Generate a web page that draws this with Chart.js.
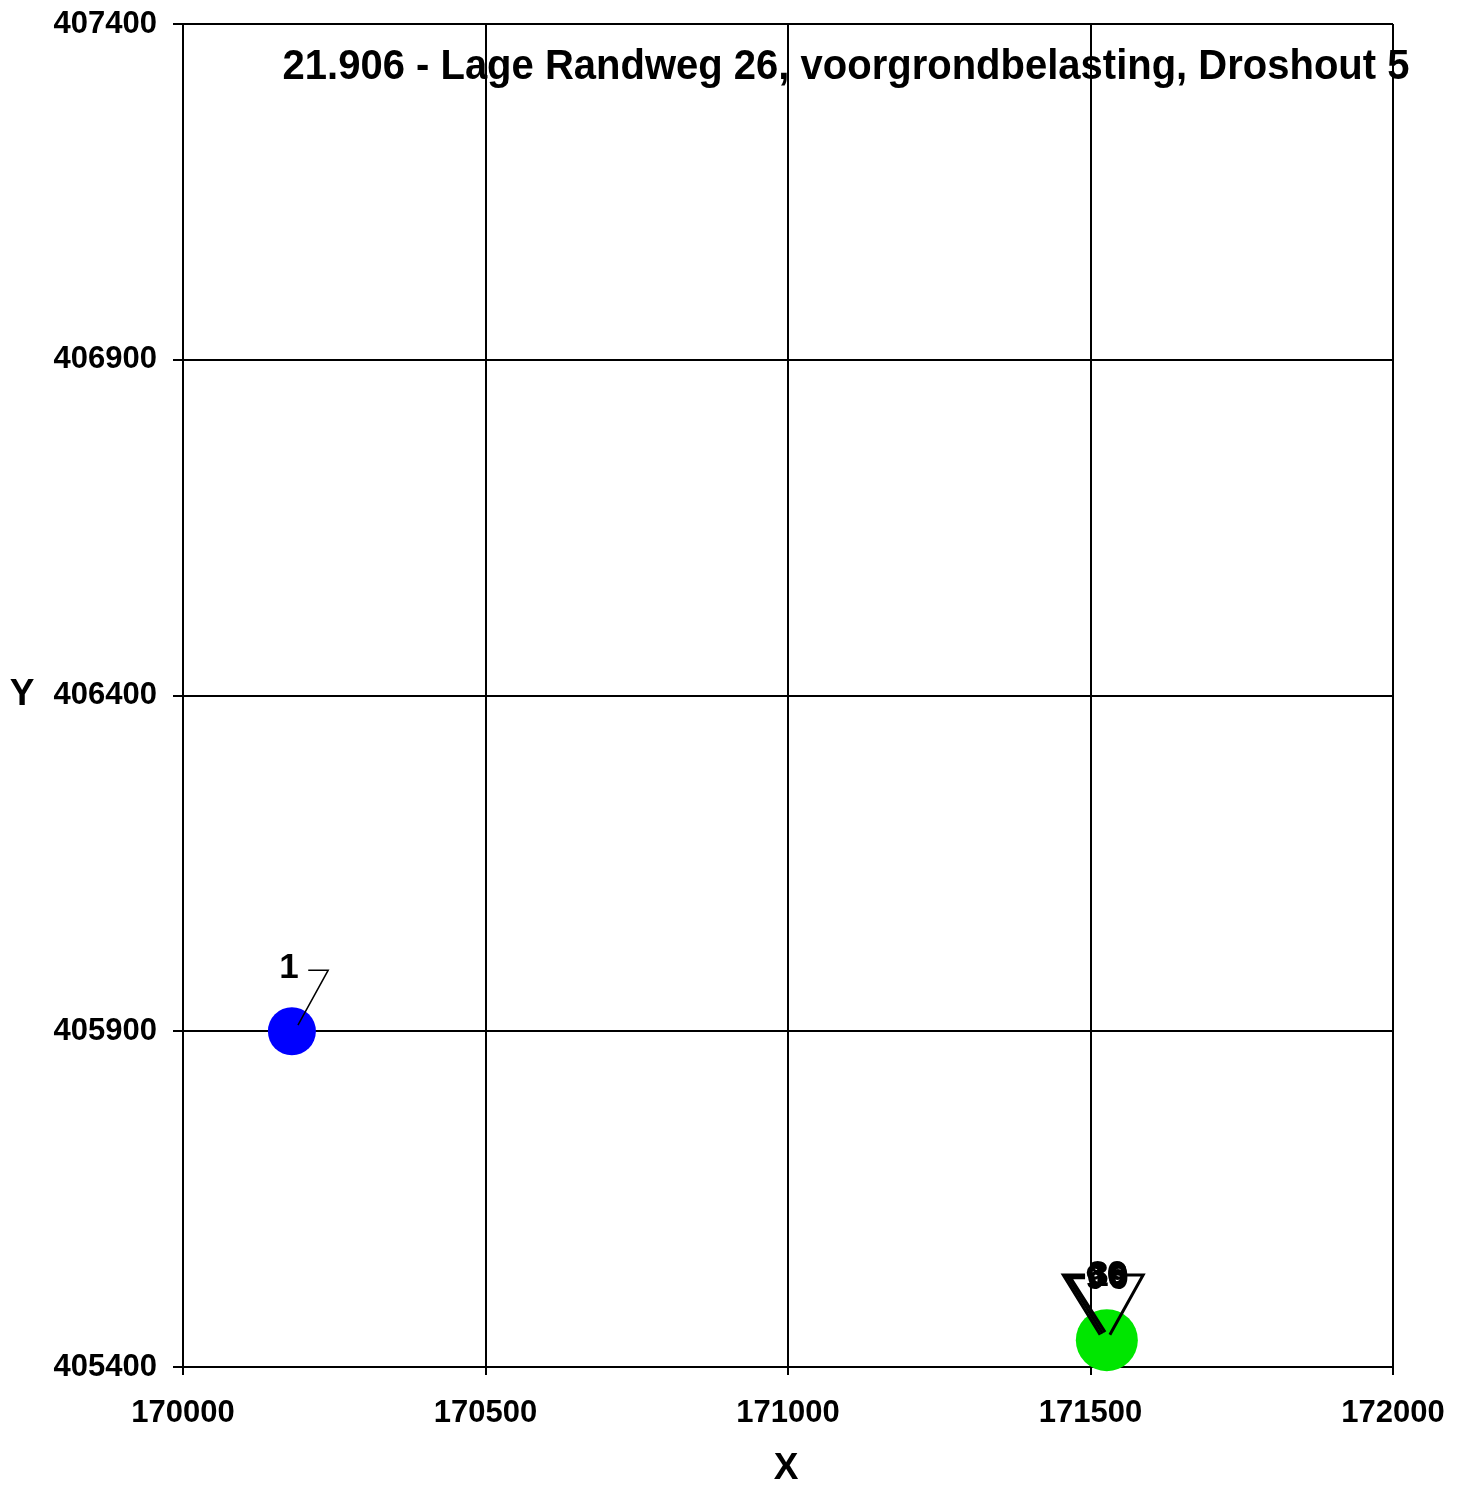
<!DOCTYPE html>
<html>
<head>
<meta charset="utf-8">
<script src="https://cdn.jsdelivr.net/npm/chart.js@4.4.1/dist/chart.umd.min.js"></script>
<style>
  html, body { margin: 0; padding: 0; background: #ffffff; overflow: hidden; }
  #wrap { width: 1466px; height: 1491px; position: relative; overflow: hidden; }
  #c { position: absolute; left: 0; top: -7px; }
</style>
</head>
<body>
<div id="wrap"><canvas id="c" width="1466" height="1498"></canvas></div>
<script>
// ---- data ----
const chartTitle = "21.906 - Lage Randweg 26, voorgrondbelasting, Droshout 5";
const xTicks = [170000, 170500, 171000, 171500, 172000];
const yTicks = [405400, 405900, 406400, 406900, 407400];

// measurement points
const blueX = [170180];
const blueY = [405900];
const greenX = [171527];
const greenY = [405440];

// point labels (numbers, the cluster labels overlap)
const labelText = ["1", "6", "8", "9", "3", "10", "8", "6", "9", "0"];
const labelX = [170175, 171510, 171512, 171508, 171514, 171530, 171545, 171543, 171547, 171546];
const labelY = [405994, 405534, 405537, 405531, 405535, 405535, 405534, 405537, 405531, 405535];

// leader lines from labels to points
const leader1X = [170207, 170240, 170190];
const leader1Y = [405991, 405991, 405909];
const leaderLX = [171491, 171455, 171516];
const leaderLY = [405537, 405537, 405448];
const leaderL2X = [171491, 171461, 171520];
const leaderL2Y = [405535, 405535, 405450];
const leaderL3X = [171491, 171467, 171524];
const leaderL3Y = [405533, 405533, 405452];
const leaderRX = [171552, 171587, 171532];
const leaderRY = [405537, 405537, 405448];

const FONT = "'Liberation Sans', Arial, sans-serif";
const SHIFT = 7; // canvas is placed 7px above the page top

function pts(xs, ys) { return xs.map((x, i) => ({ x: x, y: ys[i] })); }

const leaderStyle = (w) => ({
  type: 'scatter', showLine: true, borderColor: '#000000', borderWidth: w,
  pointRadius: 0, fill: false, order: 2, clip: false
});

const labelsPlugin = {
  id: 'labelsPlugin',
  afterDatasetsDraw(chart) {
    const ctx = chart.ctx;
    const xs = chart.scales.x, ys = chart.scales.y;
    ctx.save();
    ctx.fillStyle = '#000000';
    ctx.font = "bold 35px " + FONT;
    ctx.textAlign = 'center';
    ctx.textBaseline = 'middle';
    labelText.forEach((t, i) => {
      ctx.fillText(t, xs.getPixelForValue(labelX[i]), ys.getPixelForValue(labelY[i]));
    });
    // title
    ctx.font = "bold 40px " + FONT;
    ctx.textAlign = 'center';
    ctx.textBaseline = 'alphabetic';
    ctx.save();
    ctx.translate(846, 79 + SHIFT);
    ctx.scale(1, 1.05);
    ctx.fillText(chartTitle, 0, 0);
    ctx.restore();
    // axis titles
    ctx.font = "bold 37px " + FONT;
    ctx.textBaseline = 'middle';
    ctx.fillText("Y", 22, 695 + SHIFT);
    ctx.fillText("X", 786, 1469 + SHIFT);
    ctx.restore();
  }
};

new Chart(document.getElementById('c'), {
  type: 'scatter',
  data: {
    datasets: [
      Object.assign({ data: pts(leader1X, leader1Y) }, leaderStyle(1.5)),
      Object.assign({ data: pts(leaderLX, leaderLY) }, leaderStyle(3)),
      Object.assign({ data: pts(leaderL2X, leaderL2Y) }, leaderStyle(3)),
      Object.assign({ data: pts(leaderL3X, leaderL3Y) }, leaderStyle(3)),
      Object.assign({ data: pts(leaderRX, leaderRY) }, leaderStyle(3)),
      {
        label: 'Punt 1', data: pts(blueX, blueY),
        backgroundColor: '#0000ff', borderWidth: 0, pointRadius: 24, order: 3, clip: false
      },
      {
        label: 'Overige punten', data: pts(greenX, greenY),
        backgroundColor: '#00e600', borderWidth: 0, pointRadius: 31, order: 3, clip: false
      }
    ]
  },
  options: {
    responsive: false,
    animation: false,
    devicePixelRatio: 1,
    layout: { padding: { left: 0, right: 73, top: 17, bottom: 0 } },
    plugins: { legend: { display: false }, tooltip: { enabled: false }, title: { display: false } },
    scales: {
      x: {
        type: 'linear', min: 170000, max: 172000,
        afterBuildTicks: (s) => { s.ticks = xTicks.map(v => ({ value: v })); },
        afterFit: (s) => { s.height = 124; s.paddingLeft = 0; s.paddingRight = 0; },
        border: { display: true, color: '#000000', width: 2 },
        grid: { color: '#000000', lineWidth: 2, tickLength: 8, drawTicks: true },
        ticks: {
          color: '#000000', padding: 20, maxRotation: 0,
          font: { family: FONT, size: 31, weight: 'bold' },
          callback: (v) => String(v)
        }
      },
      y: {
        type: 'linear', min: 405400, max: 407400,
        afterBuildTicks: (s) => { s.ticks = yTicks.map(v => ({ value: v })); },
        afterFit: (s) => { s.width = 183; s.paddingTop = 0; s.paddingBottom = 0; },
        border: { display: true, color: '#000000', width: 2 },
        grid: { color: '#000000', lineWidth: 2, tickLength: 10, drawTicks: true },
        ticks: {
          color: '#000000', padding: 16,
          font: { family: FONT, size: 31, weight: 'bold' },
          callback: (v) => String(v)
        }
      }
    }
  },
  plugins: [labelsPlugin]
});
</script>
</body>
</html>
